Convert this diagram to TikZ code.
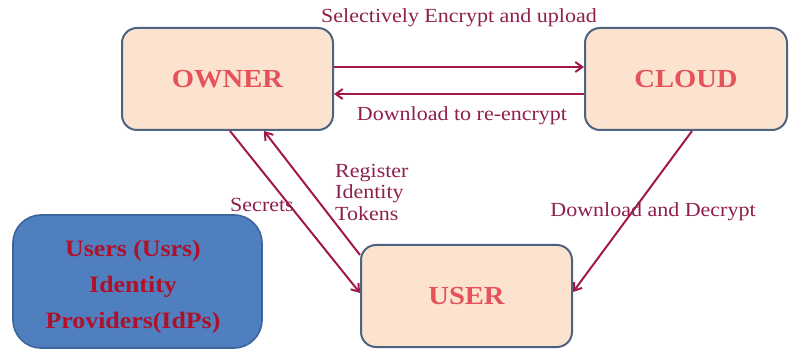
\documentclass[tikz,border=0pt]{standalone}
\usepackage{fontspec}
\setmainfont{Liberation Serif}[FakeStretch=1.1]
\usetikzlibrary{arrows.meta}
\definecolor{peach}{HTML}{FCE3D0}
\definecolor{slate}{HTML}{4D6380}
\definecolor{boxred}{HTML}{E5525A}
\definecolor{bluefill}{HTML}{4F7FBE}
\definecolor{blueedge}{HTML}{3C669B}
\definecolor{darkred}{HTML}{B0102A}
\definecolor{arrowc}{HTML}{A3184A}
\definecolor{labelc}{HTML}{8E1F4C}
\tikzset{
  entity/.style={draw=slate, line width=2pt, fill=peach, rounded corners=15pt,
    text=boxred, font=\fontsize{26}{30}\selectfont\bfseries, inner sep=0pt},
  idpbox/.style={draw=blueedge, line width=1.6pt, fill=bluefill, rounded corners=28pt,
    minimum width=249pt, minimum height=133pt, inner sep=0pt},
  idptext/.style={text=darkred, font=\fontsize{23.5}{36}\selectfont\bfseries, align=center, inner sep=0pt},
  flow/.style={draw=arrowc, line width=2pt, -{Straight Barb[length=7pt,width=10pt,line width=2pt]}},
  lbl/.style={text=labelc, font=\fontsize{20}{21.5}\selectfont, inner sep=0pt}
}
\begin{document}
\begin{tikzpicture}[x=1pt,y=1pt]
\useasboundingbox (0,0) rectangle (789,-352);
\node[entity, minimum width=211pt, minimum height=102pt] (owner) at (227.5,-79) {OWNER};
\node[entity, minimum width=202pt, minimum height=102pt] (cloud) at (686,-79) {CLOUD};
\node[entity, minimum width=211pt, minimum height=102pt] (user) at (466.5,-296) {USER};
\node[idpbox] (idp) at (137.5,-281.5) {};
\node[idptext] (idpt) at (133,-287) {Users (Usrs)\\Identity\\Providers(IdPs)};

\draw[flow] ([yshift=12pt]owner.east) -- ([yshift=12pt]cloud.west);
\draw[flow] ([yshift=-15pt]cloud.west) -- ([yshift=-15pt]owner.east);
\draw[flow] ([xshift=2.5pt]owner.south) -- ([yshift=3pt]user.west);
\draw[flow] ([yshift=41pt]user.west) -- ([xshift=36.5pt]owner.south);
\draw[flow] ([xshift=6pt]cloud.south) -- ([yshift=4pt]user.east);

\node[lbl] (l1) at (459,-18) {Selectively Encrypt and upload};
\node[lbl] (l2) at (462,-116) {Download to re-encrypt};
\node[lbl] (l3) at (262,-205) {Secrets};
\node[lbl, align=left, anchor=west] (l4) at (335,-192) {Register\\Identity\\Tokens};
\node[lbl] (l5) at (653,-212) {Download and Decrypt};
\end{tikzpicture}
\end{document}
